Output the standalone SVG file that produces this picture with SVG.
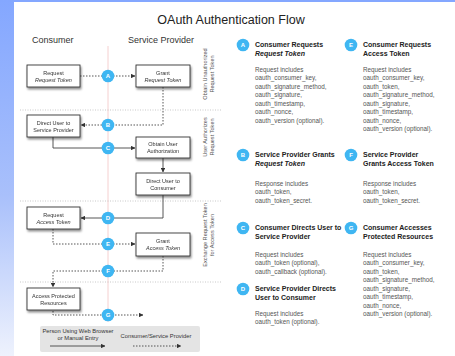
<svg xmlns="http://www.w3.org/2000/svg" width="455" height="356" viewBox="0 0 455 356">
<defs>
<linearGradient id="lg" x1="0" y1="0" x2="0" y2="1">
<stop offset="0" stop-color="#84a7ff"/>
<stop offset="0.55" stop-color="#a9c0fb"/>
<stop offset="1" stop-color="#eef2fd"/>
</linearGradient>
<filter id="sh" x="-20%" y="-20%" width="150%" height="160%">
<feGaussianBlur in="SourceAlpha" stdDeviation="1.2"/>
<feOffset dx="1" dy="1.5" result="b"/>
<feComponentTransfer><feFuncA type="linear" slope="0.45"/></feComponentTransfer>
<feMerge><feMergeNode/><feMergeNode in="SourceGraphic"/></feMerge>
</filter>
<marker id="ah" viewBox="0 0 6 6" refX="5.5" refY="3" markerWidth="5" markerHeight="5" orient="auto">
<path d="M0,0 L6,3 L0,6 z" fill="#333"/>
</marker>
</defs>
<style>
text{font-family:"Liberation Sans",Arial,sans-serif}
.box{fill:#fff;stroke:#333;stroke-width:0.9}
.bt{font-size:5.5px;fill:#333;text-anchor:middle}
.it{font-style:italic}
.ln{fill:none;stroke:#444;stroke-width:0.9}
.dt{fill:none;stroke:#444;stroke-width:0.9;stroke-dasharray:1.5,1.5}
.sec{stroke:#bbb;stroke-width:0.8;stroke-dasharray:1,1.5}
.bd{fill:#3fb6f2}
.bl{font-size:6px;font-weight:bold;fill:#fff;text-anchor:middle}
.hd{font-size:9px;fill:#333}
.rl{font-size:5.6px;fill:#555;text-anchor:middle}
.tt{font-size:7px;font-weight:bold;fill:#222}
.bx{font-size:6.3px;fill:#555}
.lg{font-size:5.8px;fill:#333;text-anchor:middle}
</style>
<rect width="455" height="356" fill="#fff"/>
<rect x="0" y="0" width="455" height="2" fill="#84a7ff"/>
<rect x="0" y="0" width="14" height="356" fill="url(#lg)"/>

<text x="231" y="24" font-size="12.5" fill="#222" text-anchor="middle">OAuth Authentication Flow</text>
<text class="hd" x="32" y="43">Consumer</text>
<text class="hd" x="128" y="43">Service Provider</text>

<line x1="108" y1="46" x2="108" y2="322" stroke="#f2c4c4" stroke-width="0.8"/>
<line class="sec" x1="20" y1="110" x2="222" y2="110"/>
<line class="sec" x1="20" y1="201" x2="222" y2="201"/>
<line class="sec" x1="20" y1="282" x2="222" y2="282"/>

<g id="phase-labels">
<text class="rl" transform="translate(207,74) rotate(-90)">Obtain Unauthorized</text>
<text class="rl" transform="translate(214,74) rotate(-90)">Request Token</text>
<text class="rl" transform="translate(207,137) rotate(-90)">User Authorizes</text>
<text class="rl" transform="translate(214,137) rotate(-90)">Request Token</text>
<text class="rl" transform="translate(207,235) rotate(-90)">Exchange Request Token</text>
<text class="rl" transform="translate(214,235) rotate(-90)">for Access Token</text>
</g>

<g id="connectors">
<line class="dt" x1="80" y1="76" x2="135" y2="76" marker-end="url(#ah)"/>
<polyline class="dt" points="163,87 163,125 81,125" marker-end="url(#ah)"/>
<polyline class="ln" points="53,137 53,148 135,148" marker-end="url(#ah)"/>
<line class="ln" x1="163" y1="158" x2="163" y2="172" marker-end="url(#ah)"/>
<polyline class="ln" points="163,195 163,218 81,218" marker-end="url(#ah)"/>
<polyline class="dt" points="53,229 53,244 135,244" marker-end="url(#ah)"/>
<polyline class="dt" points="163,256 163,271 53,271 53,287" marker-end="url(#ah)"/>
<polyline class="dt" points="53,311 53,315 143,315" marker-end="url(#ah)"/>
</g>

<g id="badges">
<circle class="bd" cx="108" cy="76" r="6.3"/><text class="bl" x="108" y="78.2">A</text>
<circle class="bd" cx="108" cy="125" r="6.3"/><text class="bl" x="108" y="127.2">B</text>
<circle class="bd" cx="108" cy="148" r="6.3"/><text class="bl" x="108" y="150.2">C</text>
<circle class="bd" cx="108" cy="218" r="6.3"/><text class="bl" x="108" y="220.2">D</text>
<circle class="bd" cx="108" cy="244" r="6.3"/><text class="bl" x="108" y="246.2">E</text>
<circle class="bd" cx="108" cy="271" r="6.3"/><text class="bl" x="108" y="273.2">F</text>
<circle class="bd" cx="108" cy="315" r="6.3"/><text class="bl" x="108" y="317.2">G</text>
</g>

<g id="n-request-request-token" filter="url(#sh)">
<rect class="box" x="27" y="65" width="53" height="22"/>
<text class="bt" x="53.5" y="74.5">Request</text>
<text class="bt it" x="53.5" y="81.5">Request Token</text>
</g>
<g id="n-grant-request-token" filter="url(#sh)">
<rect class="box" x="136" y="65" width="54" height="22"/>
<text class="bt" x="163" y="74.5">Grant</text>
<text class="bt it" x="163" y="81.5">Request Token</text>
</g>
<g id="n-direct-user-sp" filter="url(#sh)">
<rect class="box" x="27" y="115" width="53" height="22"/>
<text class="bt" x="53.5" y="124.5">Direct User to</text>
<text class="bt" x="53.5" y="131.5">Service Provider</text>
</g>
<g id="n-obtain-authorization" filter="url(#sh)">
<rect class="box" x="136" y="137" width="54" height="21"/>
<text class="bt" x="163" y="146">Obtain User</text>
<text class="bt" x="163" y="153">Authorization</text>
</g>
<g id="n-direct-user-consumer" filter="url(#sh)">
<rect class="box" x="136" y="173" width="54" height="22"/>
<text class="bt" x="163" y="182.5">Direct User to</text>
<text class="bt" x="163" y="189.5">Consumer</text>
</g>
<g id="n-request-access-token" filter="url(#sh)">
<rect class="box" x="27" y="207" width="53" height="22"/>
<text class="bt" x="53.5" y="216.5">Request</text>
<text class="bt it" x="53.5" y="223.5">Access Token</text>
</g>
<g id="n-grant-access-token" filter="url(#sh)">
<rect class="box" x="136" y="233" width="54" height="23"/>
<text class="bt" x="163" y="243">Grant</text>
<text class="bt it" x="163" y="250">Access Token</text>
</g>
<g id="n-access-resources" filter="url(#sh)">
<rect class="box" x="27" y="288" width="53" height="22"/>
<text class="bt" x="53.5" y="297.5">Access Protected</text>
<text class="bt" x="53.5" y="304.5">Resources</text>
</g>

<g id="legend">
<rect x="40" y="326" width="160" height="26" rx="2" fill="#e4e4e4"/>
<text class="lg" x="78" y="333">Person Using Web Browser</text>
<text class="lg" x="78" y="340">or Manual Entry</text>
<line class="ln" x1="50" y1="346" x2="105" y2="346" marker-end="url(#ah)"/>
<text class="lg" x="156" y="338">Consumer/Service Provider</text>
<line class="dt" x1="133" y1="346" x2="181" y2="346" marker-end="url(#ah)"/>
</g>

<g id="steps">
<circle class="bd" cx="243" cy="45" r="6.3"/><text class="bl" x="243" y="47.2">A</text>
<text class="tt" x="255" y="47">Consumer Requests</text>
<text class="tt it" x="255" y="55.5">Request Token</text>
<text class="bx" x="255" y="71.5">Request includes</text>
<text class="bx" x="255" y="80">oauth_consumer_key,</text>
<text class="bx" x="255" y="88.5">oauth_signature_method,</text>
<text class="bx" x="255" y="97">oauth_signature,</text>
<text class="bx" x="255" y="105.5">oauth_timestamp,</text>
<text class="bx" x="255" y="114">oauth_nonce,</text>
<text class="bx" x="255" y="122.5">oauth_version (optional).</text>

<circle class="bd" cx="351" cy="45" r="6.3"/><text class="bl" x="351" y="47.2">E</text>
<text class="tt" x="363" y="47">Consumer Requests</text>
<text class="tt" x="363" y="55.5">Access Token</text>
<text class="bx" x="363" y="71.5">Request includes</text>
<text class="bx" x="363" y="80">oauth_consumer_key,</text>
<text class="bx" x="363" y="88.5">oauth_token,</text>
<text class="bx" x="363" y="97">oauth_signature_method,</text>
<text class="bx" x="363" y="105.5">oauth_signature,</text>
<text class="bx" x="363" y="114">oauth_timestamp,</text>
<text class="bx" x="363" y="122.5">oauth_nonce,</text>
<text class="bx" x="363" y="131">oauth_version (optional).</text>

<circle class="bd" cx="243" cy="155" r="6.3"/><text class="bl" x="243" y="157.2">B</text>
<text class="tt" x="255" y="157">Service Provider Grants</text>
<text class="tt it" x="255" y="165.5">Request Token</text>
<text class="bx" x="255" y="185.5">Response includes</text>
<text class="bx" x="255" y="194">oauth_token,</text>
<text class="bx" x="255" y="202.5">oauth_token_secret.</text>

<circle class="bd" cx="351" cy="155" r="6.3"/><text class="bl" x="351" y="157.2">F</text>
<text class="tt" x="363" y="157">Service Provider</text>
<text class="tt" x="363" y="165.5">Grants Access Token</text>
<text class="bx" x="363" y="185.5">Response includes</text>
<text class="bx" x="363" y="194">oauth_token,</text>
<text class="bx" x="363" y="202.5">oauth_token_secret.</text>

<circle class="bd" cx="243" cy="228" r="6.3"/><text class="bl" x="243" y="230.2">C</text>
<text class="tt" x="255" y="230">Consumer Directs User to</text>
<text class="tt" x="255" y="238.5">Service Provider</text>
<text class="bx" x="255" y="256.5">Request includes</text>
<text class="bx" x="255" y="265">oauth_token (optional),</text>
<text class="bx" x="255" y="273.5">oauth_callback (optional).</text>

<circle class="bd" cx="243" cy="289" r="6.3"/><text class="bl" x="243" y="291.2">D</text>
<text class="tt" x="255" y="291">Service Provider Directs</text>
<text class="tt" x="255" y="299.5">User to Consumer</text>
<text class="bx" x="255" y="315.5">Request includes</text>
<text class="bx" x="255" y="324">oauth_token (optional).</text>

<circle class="bd" cx="351" cy="228" r="6.3"/><text class="bl" x="351" y="230.2">G</text>
<text class="tt" x="363" y="230">Consumer Accesses</text>
<text class="tt" x="363" y="238.5">Protected Resources</text>
<text class="bx" x="363" y="256.5">Request includes</text>
<text class="bx" x="363" y="265">oauth_consumer_key,</text>
<text class="bx" x="363" y="273.5">oauth_token,</text>
<text class="bx" x="363" y="282">oauth_signature_method,</text>
<text class="bx" x="363" y="290.5">oauth_signature,</text>
<text class="bx" x="363" y="299">oauth_timestamp,</text>
<text class="bx" x="363" y="307.5">oauth_nonce,</text>
<text class="bx" x="363" y="316">oauth_version (optional).</text>
</g>
</svg>
